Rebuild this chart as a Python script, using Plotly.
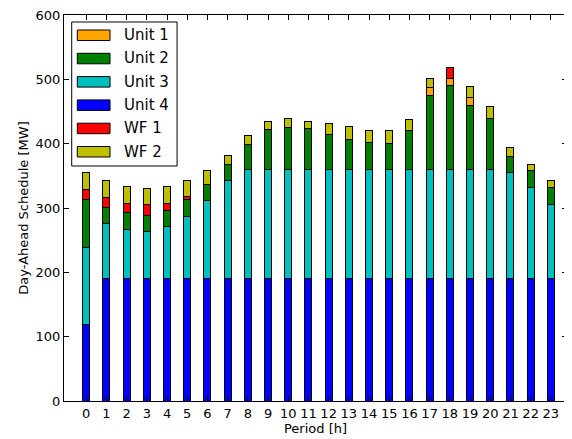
import plotly.graph_objects as go

periods = list(range(24))
unit4 = [119] + [190] * 23
unit3 = [120, 86, 77, 73, 81, 97, 121, 152, 170, 170, 170, 170, 170, 170, 170, 170, 170, 170, 170, 170, 170, 165, 142, 116]
unit2 = [74, 25, 26, 26, 25, 26, 26, 25, 38, 62, 65, 63, 54, 46, 42, 40, 60, 115, 130, 99, 79, 25, 26, 26]
unit1 = [0] * 17 + [12, 12, 12] + [0] * 4
wf1 = [15.6, 15, 14, 17, 11, 5, 0, 0, 0, 0, 0, 0, 0, 0.8, 0, 0, 0, 0, 16, 0, 0, 0, 0, 0]
wf2 = [26, 26, 26, 24, 26, 25, 21, 15, 15, 12, 14, 12, 17, 20, 18, 20, 18, 14, 0, 18, 19, 14, 10, 11]

series = [
    ("Unit 4", unit4, "#0000FF"),
    ("Unit 3", unit3, "#00BFBF"),
    ("Unit 2", unit2, "#008000"),
    ("Unit 1", unit1, "#FFA500"),
    ("WF 1", wf1, "#FF0000"),
    ("WF 2", wf2, "#BFBF00"),
]
legend_order = ["Unit 1", "Unit 2", "Unit 3", "Unit 4", "WF 1", "WF 2"]

fig = go.Figure()
for name, vals, col in series:
    fig.add_trace(go.Bar(
        x=periods, y=vals, name=name, width=0.35,
        marker=dict(color=col, line=dict(color="black", width=1)),
        showlegend=False,
    ))

font = dict(family="DejaVu Sans", size=13, color="black")

# custom matplotlib-like legend (page pixel coords -> axis domain)
X0, X1, Y0, Y1 = 64.0, 566.7, 401.0, 15.0
def dx(px):
    return (px - X0) / (X1 - X0)
def dy(py):
    return (Y0 - py) / (Y0 - Y1)

fig.add_shape(type="rect", xref="x domain", yref="y domain",
              x0=dx(71.7), x1=dx(177), y0=dy(166), y1=dy(22),
              line=dict(color="black", width=1), fillcolor="white", layer="above")
colors = {n: c for n, _, c in series}
for i, name in enumerate(legend_order):
    top = 30 + i * 23.3
    fig.add_shape(type="rect", xref="x domain", yref="y domain",
                  x0=dx(77.3), x1=dx(110), y0=dy(top + 10.5), y1=dy(top),
                  line=dict(color="black", width=1), fillcolor=colors[name], layer="above")
    fig.add_annotation(xref="x domain", yref="y domain", x=dx(122), y=dy(top + 5.2),
                       text=name, showarrow=False, xanchor="left", yanchor="middle",
                       font=dict(family="DejaVu Sans", size=15, color="black"))

# page has an 8px body margin; size the figure so the plot area lands where the reference has it
fig.update_layout(
    barmode="stack",
    width=564, height=431,
    margin=dict(l=56, r=5, t=7, b=38, pad=0),
    paper_bgcolor="white", plot_bgcolor="white",
    font=font,
)
fig.update_xaxes(
    range=[-1.1, 23.8], tickmode="array", tickvals=periods, ticktext=[str(p) for p in periods],
    ticks="inside", ticklen=5, tickcolor="black", mirror="ticks",
    showline=True, linecolor="black", linewidth=1, showgrid=False, zeroline=False,
    title=dict(text="Period [h]", font=font, standoff=4), tickfont=font,
    ticklabeloverflow="allow", automargin=False,
)
fig.update_yaxes(
    range=[0, 600], tickvals=[0, 100, 200, 300, 400, 500, 600],
    ticks="inside", ticklen=5, tickcolor="black", mirror="ticks",
    showline=True, linecolor="black", linewidth=1, showgrid=False, zeroline=False,
    title=dict(text="Day-Ahead Schedule [MW]", font=font, standoff=4), tickfont=font,
    ticklabeloverflow="allow", automargin=False,
)

fig.write_html("out.html")
